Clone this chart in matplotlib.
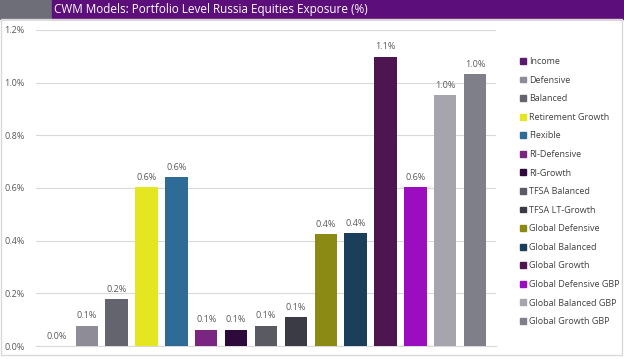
import matplotlib.pyplot as plt
from matplotlib.patches import Rectangle

# values in %
models = ['Income', 'Defensive', 'Balanced', 'Retirement Growth', 'Flexible',
          'RI-Defensive', 'RI-Growth', 'TFSA Balanced', 'TFSA LT-Growth',
          'Global Defensive', 'Global Balanced', 'Global Growth',
          'Global Defensive GBP', 'Global Balanced GBP', 'Global Growth GBP']
exposure = [0.0, 0.077, 0.177, 0.604, 0.642, 0.062, 0.062, 0.077, 0.109,
            0.424, 0.430, 1.099, 0.604, 0.952, 1.033]
colors = ['#5a1a6e', '#8e8c97', '#63646e', '#e3e620', '#2e6b96', '#7b2583',
          '#2e0a3c', '#5a5a62', '#3a3b45', '#8a8a15', '#1b3f5a', '#4d1650',
          '#9b0ec0', '#a6a4ac', '#7f7f8a']
yticks = [0.0, 0.2, 0.4, 0.6, 0.8, 1.0, 1.2]

plt.rcParams['font.family'] = ['Open Sans', 'DejaVu Sans']

fig = plt.figure(figsize=(6.24, 3.59), dpi=100)

# title bar
fig.patches.append(Rectangle((0, 0.947), 52 / 624, 0.053, transform=fig.transFigure,
                             color='#6e6e78', zorder=0))
fig.patches.append(Rectangle((52 / 624, 0.947), 1 - 52 / 624, 0.053, transform=fig.transFigure,
                             color='#5c0f7a', zorder=0))
fig.text(54 / 624, 0.973, 'CWM Models: Portfolio Level Russia Equities Exposure (%)',
         color='white', fontsize=8.5, va='center', ha='left')
# outer frame
fig.patches.append(Rectangle((0.002, 0.01), 0.995, 0.937, transform=fig.transFigure,
                             fill=False, edgecolor='#d9d9d9', lw=1))

ax = fig.add_axes([36 / 624, 13 / 359, 460 / 624, 316 / 359])
x = range(len(models))
bars = ax.bar(x, exposure, width=0.75, color=colors, label=models, zorder=3)
for i, v in enumerate(exposure):
    ax.text(i, v + 0.02, f'{v:.1f}%', ha='center', va='bottom', fontsize=6.5, color='#595959')

ax.set_ylim(0, 1.2)
ax.set_xlim(-0.7, len(models) - 0.3)
ax.set_yticks(yticks)
ax.set_yticklabels([f'{t:.1f}%' for t in yticks], fontsize=6.5, color='#595959')
ax.set_xticks([])
ax.grid(axis='y', color='#d9d9d9', lw=0.8, zorder=0)
for s in ['top', 'right', 'left']:
    ax.spines[s].set_visible(False)
ax.spines['bottom'].set_color('#d9d9d9')
ax.tick_params(axis='y', length=0, pad=8)

handles = [Rectangle((0, 0), 1, 1, color=c) for c in colors]
fig.legend(handles, models, loc='upper left', bbox_to_anchor=(512 / 624, 1 - 49 / 359),
           frameon=False, fontsize=6.5, labelcolor='#404040', handlelength=0.6,
           handleheight=0.6, handletextpad=0.4, labelspacing=1.06)

fig.savefig('out.png', dpi=100)
